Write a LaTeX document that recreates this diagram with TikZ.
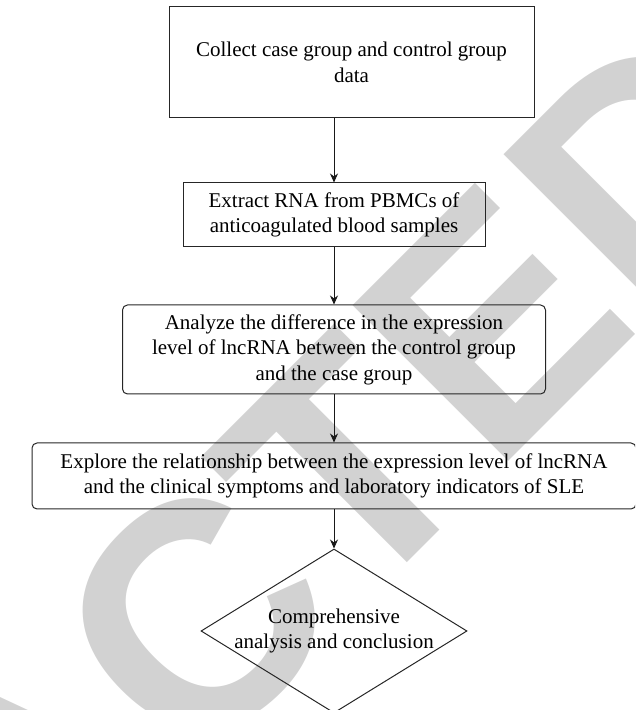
\documentclass[tikz,border=0pt]{standalone}
\usepackage{fontspec}
\setmainfont{Liberation Serif}
\newfontfamily\stampfont{Liberation Sans}
\usetikzlibrary{arrows.meta,shapes.geometric,positioning}

\tikzset{
  box/.style={draw=black!85, line width=1pt, align=center, inner sep=0pt,
    font=\fontsize{21}{25.5}\selectfont},
  roundbox/.style={box, rounded corners=5pt},
  decision/.style={box, diamond},
  flow/.style={-{Stealth[length=9pt,width=8pt]}, line width=0.8pt, black!90},
  stamp/.style={text=gray!35, font=\stampfont\bfseries\fontsize{320}{320}\selectfont}
}

\begin{document}
\begin{tikzpicture}[x=1pt, y=1pt]
	\useasboundingbox (0,0) rectangle (635,710);
	\clip (0,0) rectangle (635,710);

	\node[stamp, rotate=45, anchor=base] (stampmark) at (110,-150) {RETRACTED};

	\node[box, minimum width=365, minimum height=111] (collect) at (351.5,647.5)
		{Collect case group and control group\\data};
	\node[box, minimum width=302, minimum height=64] (extract) at (334,495)
		{Extract RNA from PBMCs of\\anticoagulated blood samples};
	\node[roundbox, minimum width=423, minimum height=89] (analyze) at (334,360.5)
		{Analyze the difference in the expression\\level of lncRNA between the control group\\and the case group};
	\node[roundbox, minimum width=604, minimum height=66] (explore) at (334,234)
		{Explore the relationship between the expression level of lncRNA\\and the clinical symptoms and laboratory indicators of SLE};
	\node[decision, minimum width=266, minimum height=164] (conclude) at (334,79)
		{\makebox[0pt]{\raisebox{9pt}{\begin{tabular}{@{}c@{}}Comprehensive\\analysis and conclusion\end{tabular}}}};

	\draw[flow] (extract.north |- collect.south) -- (extract.north);
	\draw[flow] (extract.south) -- (analyze.north);
	\draw[flow] (analyze.south) -- (explore.north);
	\draw[flow] (explore.south) -- (conclude.north);
\end{tikzpicture}
\end{document}
